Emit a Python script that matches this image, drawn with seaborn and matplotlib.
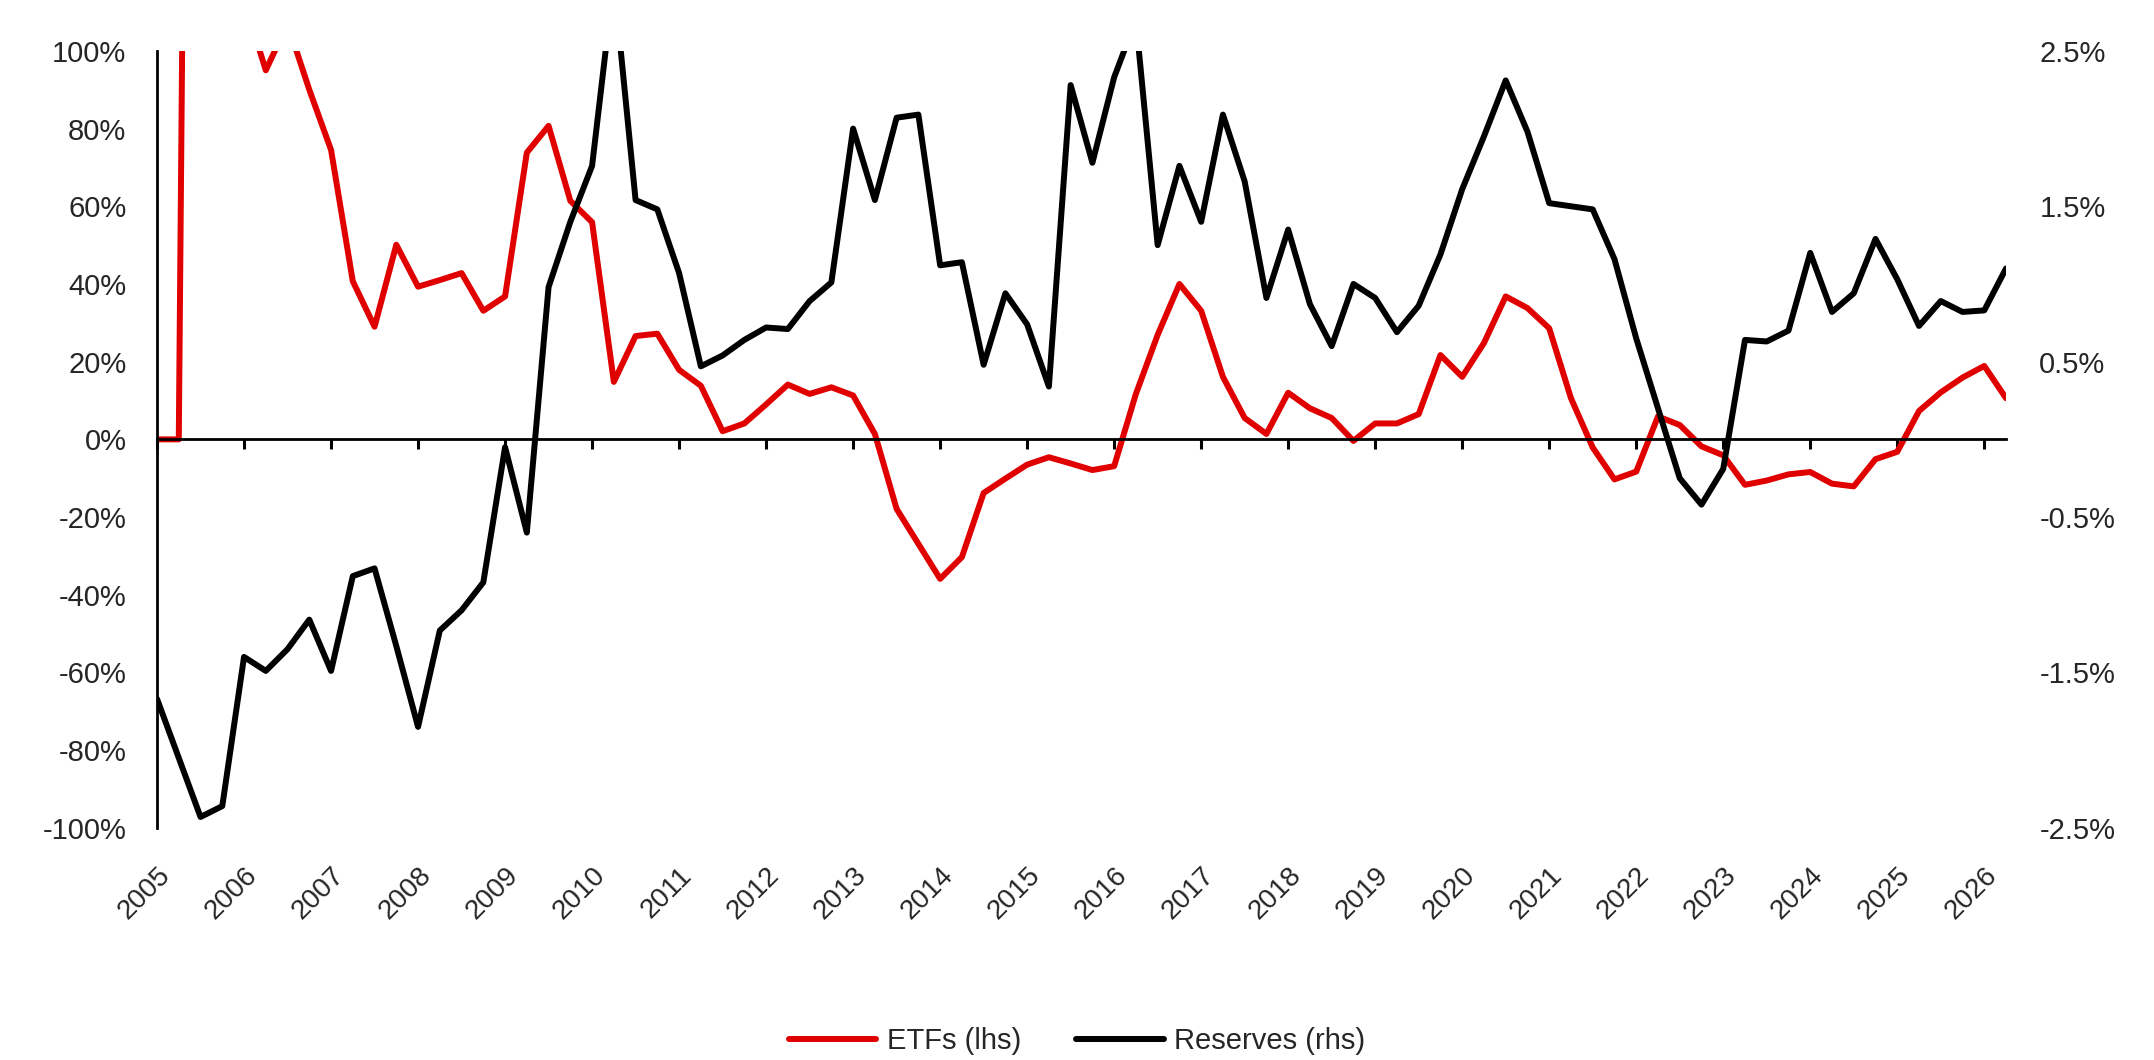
import numpy as np
import pandas as pd
import matplotlib
matplotlib.use("Agg")
import matplotlib.pyplot as plt
import seaborn as sns
from matplotlib.ticker import FuncFormatter

# quarterly series, 2005Q1 - 2026Q2
quarters = pd.period_range("2005Q1", "2026Q2", freq="Q")

# ETF flows, % (left axis)
etfs = [0, 0, 650, 300, 113, 95, 107, 90, 74.5, 40.7,
        29.0, 50.1, 39.3, 41.0, 42.8, 33.1, 36.8, 73.8, 80.7, 61.4,
        55.9, 14.8, 26.6, 27.2, 17.9, 13.8, 2.1, 4.1, 9.0, 14.1,
        11.7, 13.4, 11.3, 1.4, -17.9, -26.9, -35.9, -30.3, -13.8, -10.1,
        -6.5, -4.6, -6.2, -7.9, -6.9, 11.7, 26.9, 40.0, 33.1, 16.1,
        5.5, 1.4, 12.0, 8.0, 5.5, -0.4, 4.1, 4.1, 6.5, 21.7,
        16.1, 24.8, 36.8, 33.8, 28.6, 10.6, -2.1, -10.3, -8.3, 5.9,
        3.7, -1.8, -4.1, -11.7, -10.6, -9.0, -8.4, -11.4, -12.1, -5.1,
        -3.2, 7.3, 12.1, 15.9, 18.9, 10.6]

# central bank reserves, % (right axis)
reserves = [-1.67, -2.05, -2.43, -2.36, -1.40, -1.49, -1.35, -1.16, -1.49, -0.88,
            -0.83, -1.33, -1.85, -1.23, -1.10, -0.92, -0.05, -0.60, 0.98, 1.40,
            1.76, 2.95, 1.54, 1.48, 1.07, 0.47, 0.54, 0.64, 0.72, 0.71,
            0.89, 1.01, 2.00, 1.54, 2.07, 2.09, 1.12, 1.14, 0.48, 0.94,
            0.74, 0.34, 2.28, 1.78, 2.33, 2.70, 1.25, 1.76, 1.40, 2.09,
            1.66, 0.91, 1.35, 0.87, 0.60, 1.00, 0.91, 0.69, 0.86, 1.19,
            1.61, 1.95, 2.31, 1.98, 1.52, 1.50, 1.48, 1.16, 0.65, 0.20,
            -0.25, -0.42, -0.19, 0.64, 0.63, 0.70, 1.20, 0.82, 0.94, 1.29,
            1.03, 0.73, 0.89, 0.82, 0.83, 1.10]

year_ticks = list(range(2005, 2027))
left_ticks = [-100, -80, -60, -40, -20, 0, 20, 40, 60, 80, 100]
right_ticks = [-2.5, -1.5, -0.5, 0.5, 1.5, 2.5]

sns.set_style("white")
plt.rcParams["font.family"] = ["Liberation Sans", "DejaVu Sans"]

df = pd.DataFrame({
    "date": quarters.year + (quarters.quarter - 1) / 4,
    "etfs": etfs,
    "reserves": reserves,
})

fig = plt.figure(figsize=(21.54, 10.6), dpi=100)
ax = fig.add_axes([0.0729, 0.219, 0.8584, 0.733])
ax2 = ax.twinx()

sns.lineplot(data=df, x="date", y="etfs", ax=ax, color="#E00000", lw=4.3,
             label="ETFs (lhs)", legend=False)
sns.lineplot(data=df, x="date", y="reserves", ax=ax2, color="black", lw=4.3,
             label="Reserves (rhs)", legend=False)

ax.set_xlim(2005, df["date"].iloc[-1])
ax.set_ylim(-100, 100)
ax2.set_ylim(-2.5, 2.5)
ax.set_xlabel("")
ax.set_ylabel("")
ax2.set_ylabel("")

ax.set_yticks(left_ticks)
ax.yaxis.set_major_formatter(FuncFormatter(lambda v, p: f"{v:.0f}%"))
ax.tick_params(axis="y", length=0, pad=22, labelsize=21)
ax2.set_yticks(right_ticks)
ax2.yaxis.set_major_formatter(FuncFormatter(lambda v, p: f"{v:.1f}%"))
ax2.tick_params(axis="y", length=0, pad=24, labelsize=21)

for s in ax2.spines.values():
    s.set_visible(False)
ax.spines["top"].set_visible(False)
ax.spines["right"].set_visible(False)
ax.spines["left"].set_color("black")
ax.spines["left"].set_linewidth(2)
ax.spines["bottom"].set_position(("data", 0))
ax.spines["bottom"].set_color("black")
ax.spines["bottom"].set_linewidth(2)

# year ticks on the zero line, labels at the bottom
ax.set_xticks(year_ticks)
ax.tick_params(axis="x", direction="out", length=7, width=2.2, color="black",
               bottom=True, labelbottom=False)
sec = ax.secondary_xaxis("bottom")
sec.set_xticks(year_ticks)
sec.set_xticklabels([str(y) for y in year_ticks], rotation=45, ha="right",
                    rotation_mode="anchor", fontsize=20)
sec.tick_params(length=0, pad=25)
sec.spines["bottom"].set_visible(False)

fig.legend(handles=[ax.lines[0], ax2.lines[0]], loc="lower center",
           bbox_to_anchor=(0.5, -0.02), ncol=2, frameon=False, fontsize=21,
           handlelength=3, handletextpad=0.35, columnspacing=1.9)

fig.savefig("out.png", dpi=100)
